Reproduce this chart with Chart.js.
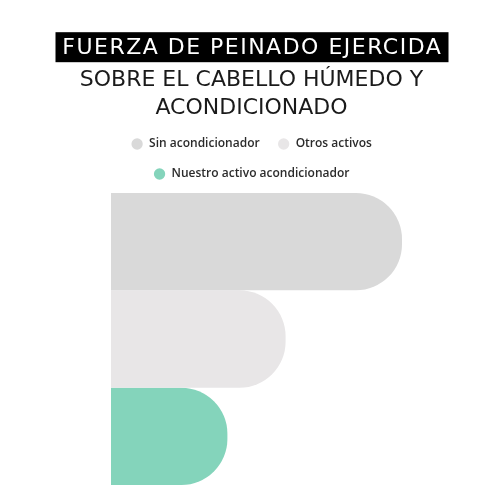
<!DOCTYPE html>
<html><head><meta charset="utf-8">
<script src="https://cdn.jsdelivr.net/npm/chart.js@4"></script>
<style>html,body{margin:0;padding:0;background:#fff;}#wrap{width:500px;height:500px;}</style>
</head><body><div id="wrap"><canvas id="c" width="500" height="500"></canvas></div>
<script>
const titleLine = 'FUERZA DE PEINADO EJERCIDA';
const subtitleLines = ['SOBRE EL CABELLO HÚMEDO Y', 'ACONDICIONADO'];
const categories = ['Fuerza de peinado'];
const seriesNames = ['Sin acondicionador', 'Otros activos', 'Nuestro activo acondicionador'];
const sinAcondicionador = [100];
const otrosActivos = [60];
const nuestroActivo = [40];
const seriesColors = ['#d9d9d9', '#e8e6e7', '#84d4bb'];

const TITLE_SIZE = 22;
const TITLE_FONT = "normal " + TITLE_SIZE + "px 'DejaVu Sans'";
const TITLE_TARGET_W = 380;
const SUB_TARGET_W = 342;

function spacingFor(ctx, text, target) {
  ctx.save();
  ctx.font = TITLE_FONT;
  ctx.letterSpacing = '0px';
  const w = ctx.measureText(text).width;
  ctx.restore();
  return Math.max(0, (target - w) / text.length);
}

const titleStylePlugin = {
  id: 'titleStyle',
  afterLayout(chart) {
    chart.boxes.forEach((box) => {
      if (box._spaced || !box.options || box.options.text === undefined) return;
      let s = null;
      if (box.options.text === titleLine) s = spacingFor(chart.ctx, titleLine, TITLE_TARGET_W);
      else if (box.options.text === subtitleLines) s = spacingFor(chart.ctx, subtitleLines[0], SUB_TARGET_W);
      if (s === null) return;
      const orig = box.draw;
      box.draw = function (...args) {
        const ctx = this.ctx;
        ctx.save();
        ctx.letterSpacing = s + 'px';
        ctx.translate(s / 2, 0);
        orig.apply(this, args);
        ctx.restore();
      };
      box._spaced = true;
    });
  },
  beforeDraw(chart) {
    const tb = chart.titleBlock;
    if (!tb) return;
    const ctx = chart.ctx;
    const cx = (tb.left + tb.right) / 2;
    const cy = tb.top + 35 + TITLE_SIZE * 0.6 - 1;
    ctx.save();
    ctx.fillStyle = '#000';
    ctx.fillRect(cx - TITLE_TARGET_W / 2 - 6, cy - 15, TITLE_TARGET_W + 13, 30);
    ctx.restore();
  }
};

new Chart(document.getElementById('c'), {
  type: 'bar',
  data: {
    labels: categories,
    datasets: [
      {label: seriesNames[0], data: sinAcondicionador, backgroundColor: seriesColors[0]},
      {label: seriesNames[1], data: otrosActivos, backgroundColor: seriesColors[1]},
      {label: seriesNames[2], data: nuestroActivo, backgroundColor: seriesColors[2]}
    ]
  },
  options: {
    indexAxis: 'y',
    responsive: false,
    animation: false,
    layout: {padding: {left: 52, right: 49, top: 0, bottom: 12}},
    datasets: {bar: {categoryPercentage: 0.98, barPercentage: 1, borderRadius: 46, borderSkipped: 'start'}},
    scales: {
      x: {display: false, min: 0, max: 100},
      y: {display: true, position: 'left', ticks: {display: false}, grid: {display: false}, border: {display: false},
          afterFit: (s) => { s.width = 59; }},
      yRight: {type: 'category', display: true, position: 'right', ticks: {display: false},
          grid: {display: false}, border: {display: false},
          afterFit: (s) => { s.width = 49; }}
    },
    plugins: {
      title: {display: true, text: titleLine, color: '#ffffff',
        font: {family: "'DejaVu Sans'", size: TITLE_SIZE, weight: 'normal', lineHeight: 1.2},
        padding: {top: 35, bottom: 0}},
      subtitle: {display: true, text: subtitleLines, color: '#1a1a1a',
        font: {family: "'DejaVu Sans'", size: TITLE_SIZE, weight: 'normal', lineHeight: '28px'},
        padding: {top: 4.6, bottom: -2}},
      legend: {
        display: true, position: 'top',
        labels: {usePointStyle: true, pointStyle: 'circle', boxWidth: 12, boxHeight: 8, padding: 18,
          color: '#2b2b2b', font: {family: "'Open Sans'", size: 12, weight: '600'}}
      },
      tooltip: {enabled: false}
    }
  },
  plugins: [titleStylePlugin]
});
</script></body></html>
